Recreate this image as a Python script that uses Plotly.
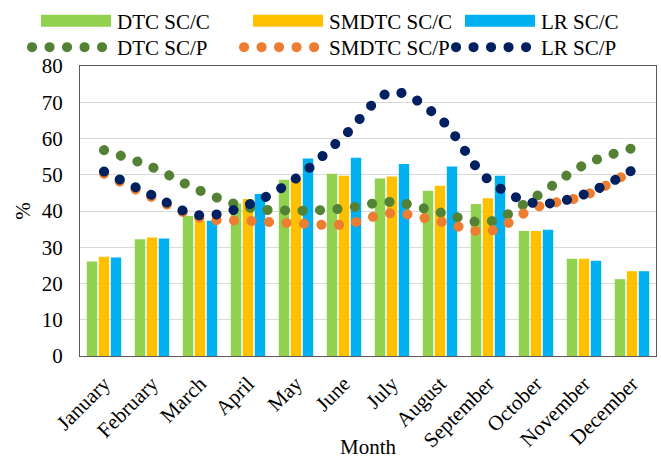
import plotly.graph_objects as go

months = ["January", "February", "March", "April", "May", "June", "July",
          "August", "September", "October", "November", "December"]

dtc_sc_c = [26.1, 32.2, 38.6, 42.1, 48.6, 50.3, 49.0, 45.6, 41.9, 34.5, 26.8, 21.2]
smdtc_sc_c = [27.4, 32.7, 37.3, 43.3, 49.0, 49.7, 49.5, 47.0, 43.5, 34.5, 26.8, 23.4]
lr_sc_c = [27.2, 32.4, 37.3, 44.7, 54.5, 54.7, 53.0, 52.3, 49.7, 34.8, 26.3, 23.4]

dtc_sc_p = [56.8, 52.1, 45.6, 41.0, 40.1, 40.7, 42.5, 39.6, 37.0, 44.0, 52.7, 57.3]
smdtc_sc_p = [50.3, 43.8, 38.1, 37.3, 36.6, 36.3, 39.4, 37.1, 34.4, 41.0, 44.2, 51.1]
lr_sc_p = [50.9, 44.4, 38.8, 41.7, 49.0, 60.7, 72.8, 65.5, 48.7, 42.1, 44.6, 51.2]

y_ticks = [0, 10, 20, 30, 40, 50, 60, 70, 80]

FONT = "Liberation Serif"

fig = go.Figure()

bar_series = [("DTC SC/C", dtc_sc_c, "#92D050"),
              ("SMDTC SC/C", smdtc_sc_c, "#FFC000"),
              ("LR SC/C", lr_sc_c, "#00B0F0")]
for name, vals, col in bar_series:
    fig.add_trace(go.Bar(x=months, y=vals, name=name, marker_color=col,
                         marker_line_width=0, legend="legend"))

line_series = [("DTC SC/P", dtc_sc_p, "#548235"),
               ("SMDTC SC/P", smdtc_sc_p, "#ED7D31"),
               ("LR SC/P", lr_sc_p, "#002060")]
for name, vals, col in line_series:
    fig.add_trace(go.Scatter(x=months, y=vals, name=name, mode="lines",
                             line=dict(color=col, width=10, shape="spline",
                                       dash="0.1px,17.4px"),
                             legend="legend2"))

leg_common = dict(orientation="h", xref="paper", yref="paper",
                  xanchor="left", yanchor="middle",
                  entrywidth=117, entrywidthmode="pixels",
                  itemwidth=80, font=dict(family=FONT, size=21, color="#000000"),
                  bgcolor="rgba(0,0,0,0)", borderwidth=0)

LEG_X = (27 - 80) / 576

fig.update_layout(
    width=661, height=459,
    margin=dict(l=80, r=5, t=66, b=103, autoexpand=False),
    plot_bgcolor="white", paper_bgcolor="white",
    font=dict(family=FONT, size=21, color="#000000"),
    barmode="group", bargap=0.25, bargroupgap=0.13,
    showlegend=True,
    legend=dict(leg_common, x=LEG_X, y=1 + (66 - 21) / 290),
    legend2=dict(leg_common, x=LEG_X, y=1 + (66 - 47.5) / 290),
    xaxis=dict(tickangle=-45, automargin=False,
               showline=True, linecolor="#595959", linewidth=1.3, mirror=True,
               ticks="", showgrid=False, ticklabelstandoff=6,
               tickfont=dict(family=FONT, size=21)),
    yaxis=dict(title=dict(text="%", standoff=5, font=dict(family=FONT, size=21)),
               range=[0, 80], tickvals=y_ticks, automargin=False,
               showline=True, linecolor="#595959", linewidth=1.3, mirror=True,
               gridcolor="#D9D9D9", gridwidth=1, zeroline=False,
               ticks="", ticklabelstandoff=12,
               tickfont=dict(family=FONT, size=21)),
    annotations=[dict(text="Month", xref="paper", yref="paper", x=0.5,
                      y=-(447 - 356) / 290, xanchor="center", yanchor="middle",
                      showarrow=False, font=dict(family=FONT, size=21))],
)

post = """
document.body.style.margin = '0';
document.body.style.padding = '0';
var st = document.createElement('style');
st.innerHTML = 'body{margin:0 !important;} .modebar-container{display:none !important;} .scatterlayer .js-line, g.legendlines path {stroke-linecap: round !important;}';
document.head.appendChild(st);
var gd = document.getElementsByClassName('plotly-graph-div')[0];
gd.querySelectorAll('g.traces').forEach(function(g){
  var txt = g.querySelector('text.legendtext');
  if (!txt) return;
  var tb = txt.getBoundingClientRect();
  g.querySelectorAll('path').forEach(function(p){
    var d = p.getAttribute('d') || '';
    var bb = p.getBoundingClientRect();
    if (d.indexOf('V-6') >= 0) {
      var right = tb.left - 6;
      var cx = (bb.left + bb.right) / 2;
      var shift = (right - 35) - cx;
      var r = shift + 35, l = shift - 35;
      p.setAttribute('d', 'M' + r + ',6H' + l + 'V-6H' + r + 'Z');
    } else if (p.parentNode && p.parentNode.classList.contains('legendlines')) {
      var last = tb.left - 9.5;
      var first = last - 65;
      var lx = 5 + (first - bb.left);
      p.setAttribute('d', 'M' + lx + ',0h65');
      p.style.strokeWidth = '7px';
      p.style.strokeDasharray = '0.1px,16.15px';
    }
  });
});
"""

fig.write_html("out.html", post_script=post,
               config={"displayModeBar": False})
